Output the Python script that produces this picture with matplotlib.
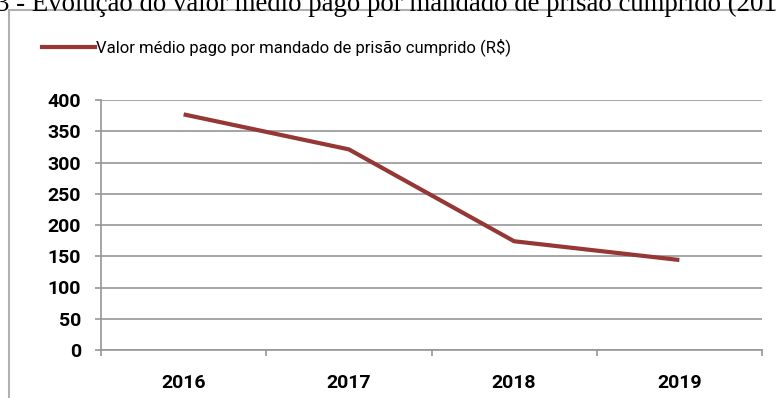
import matplotlib
matplotlib.use("Agg")
from matplotlib import pyplot as plt
from matplotlib.patches import Rectangle
from matplotlib.lines import Line2D

anos = ["2016", "2017", "2018", "2019"]
valores = [377, 321, 174, 144]
serie = "Valor médio pago por mandado de prisão cumprido (R$)"
titulo = "3 - Evolução do valor médio pago por mandado de prisão cumprido (2016-2019)"

cor_linha = "#953735"
cor_grade = "#969696"
fonte = ["Roboto", "DejaVu Sans"]

W, H = 776, 398
fig = plt.figure(figsize=(W / 100, H / 100), dpi=100)

# moldura do grafico
fig.patches.append(Rectangle((9 / W, -0.1), 1.0, 1 - 9.5 / H + 0.1, transform=fig.transFigure,
                             fill=False, edgecolor="#b0b0b0", linewidth=1.5))

# titulo (cortado no topo, como no original)
fig.text(-4 / W, 1 - 11 / H, titulo, family="Liberation Serif", fontsize=19.3,
         va="baseline", ha="left", color="black")

ax = fig.add_axes([101 / W, 1 - 350 / H, (762 - 101) / W, 250 / H])
x = list(range(len(anos)))
ax.plot(x, valores, color=cor_linha, linewidth=3, solid_capstyle="butt")
ax.set_xlim(-0.5, len(anos) - 0.5)
ax.set_ylim(0, 400)
ax.set_yticks(range(0, 401, 50))
ax.grid(axis="y", color=cor_grade, linewidth=1.2)
ax.set_axisbelow(True)
for s in ["top", "right"]:
    ax.spines[s].set_visible(False)
for s in ["left", "bottom"]:
    ax.spines[s].set_color(cor_grade)
    ax.spines[s].set_linewidth(1.2)

ax.set_xticks([i - 0.5 for i in range(len(anos) + 1)])
ax.set_xticklabels([])
ax.set_xticks(x, minor=True)
ax.set_xticklabels(anos, minor=True, family=fonte, fontsize=14, fontweight="bold")
ax.tick_params(axis="x", which="major", length=4.5, color=cor_grade, width=1.2)
ax.tick_params(axis="x", which="minor", length=0, pad=17)
ax.tick_params(axis="y", length=4.5, color=cor_grade, width=1.2, pad=10)
for lb in ax.get_yticklabels():
    lb.set_family(fonte)
    lb.set_fontsize(14)
    lb.set_fontweight("bold")

# legenda no topo
fig.add_artist(Line2D([42 / W, 95 / W], [1 - 47 / H, 1 - 47 / H], color=cor_linha, linewidth=3))
fig.text(96 / W, 1 - 47 / H, serie, family=fonte, fontsize=12, va="center", ha="left")

fig.savefig("out.png", dpi=100)
